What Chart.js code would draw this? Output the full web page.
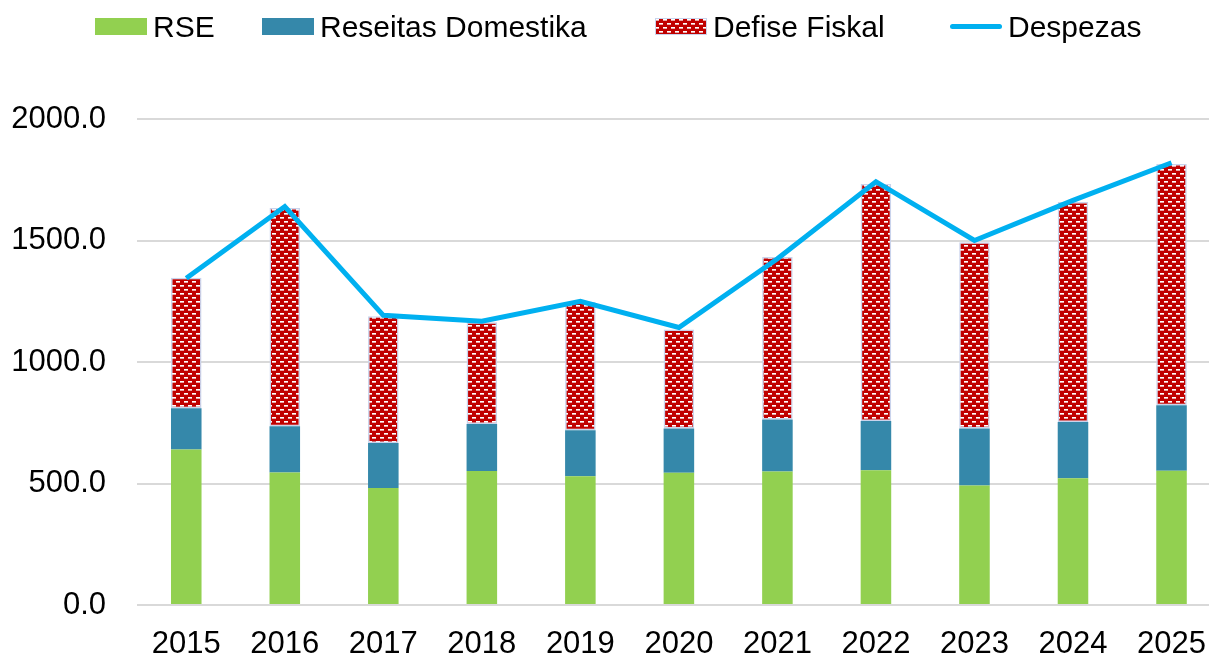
<!DOCTYPE html>
<html>
<head>
<meta charset="utf-8">
<script src="https://cdn.jsdelivr.net/npm/chart.js@4.4.1/dist/chart.umd.min.js"></script>
<style>
  body { margin: 0; background: #fff; }
  #wrap { position: relative; width: 1209px; height: 656px; overflow: hidden; }
  #legend {
    position: absolute; left: 0; top: 0; width: 1209px; height: 53px;
    font: 30px "Liberation Sans", Arial, sans-serif; color: #000;
  }
  .item { position: absolute; top: 0; height: 53px; display: flex; align-items: center; white-space: nowrap; }
  .swatch { width: 52px; height: 17px; margin-right: 6px; }
  .swatch.line { height: 5px; border-radius: 3px; }
</style>
</head>
<body>
<div id="wrap">
  <canvas id="chart" width="1227" height="656"></canvas>
  <div id="legend"></div>
</div>
<script>
const years = ["2015", "2016", "2017", "2018", "2019", "2020", "2021", "2022", "2023", "2024", "2025"];
const rse = [640, 545, 481, 551, 530, 544, 549, 555, 492, 522, 552];
const reseitasDomestika = [170, 191, 186, 194, 189, 182, 214, 202, 234, 231, 270];
const defiseFiskal = [537, 898, 521, 419, 528, 408, 669, 976, 767, 905, 993];
const despezas = [1345, 1640, 1192, 1168, 1250, 1142, 1425, 1742, 1500, 1665, 1820];
const yTicks = [0, 500, 1000, 1500, 2000];

const FONT = "'Liberation Sans', Arial, sans-serif";

// red brick pattern with white dashes
const tile = document.createElement("canvas");
tile.width = 8;
tile.height = 8;
const tctx = tile.getContext("2d");
tctx.fillStyle = "#C00000";
tctx.fillRect(0, 0, 8, 8);
tctx.fillStyle = "#ffffff";
tctx.fillRect(0, 1, 4, 1);
tctx.fillRect(4, 5, 4, 1);
tctx.fillStyle = "rgba(255,255,255,0.65)";
tctx.fillRect(0, 2, 4, 1);
tctx.fillRect(4, 6, 4, 1);
const ctx = document.getElementById("chart").getContext("2d");
const redPattern = ctx.createPattern(tile, "repeat");

const data = {
  labels: years,
  datasets: [
    {
      type: "line",
      label: "Despezas",
      data: despezas,
      borderColor: "#00B0F0",
      backgroundColor: "#00B0F0",
      borderWidth: 5,
      pointRadius: 0,
      tension: 0,
      order: 0,
    },
    {
      label: "RSE",
      data: rse,
      backgroundColor: "#92D050",
      stack: "s",
      order: 1,
    },
    {
      label: "Reseitas Domestika",
      data: reseitasDomestika,
      backgroundColor: "#3588AA",
      stack: "s",
      order: 1,
    },
    {
      label: "Defise Fiskal",
      data: defiseFiskal,
      backgroundColor: redPattern,
      borderColor: "#C9D3EC",
      borderWidth: 1.5,
      borderSkipped: false,
      stack: "s",
      order: 1,
    },
  ],
};

const config = {
  type: "bar",
  data,
  options: {
    responsive: false,
    animation: false,
    layout: { padding: { top: 119, left: 0, right: 0, bottom: 0 } },
    datasets: {
      bar: { barPercentage: 0.31, categoryPercentage: 1 },
    },
    plugins: {
      legend: { display: false },
      tooltip: { enabled: false },
    },
    scales: {
      x: {
        stacked: true,
        grid: { display: false, drawTicks: false },
        border: { display: false },
        ticks: { color: "#000", font: { family: FONT, size: 31 }, padding: 21 },
        afterFit: (scale) => { scale.height = 51; },
      },
      y: {
        stacked: true,
        min: 0,
        max: 2000,
        afterBuildTicks: (scale) => { scale.ticks = yTicks.map((v) => ({ value: v })); },
        grid: { color: "#D9D9D9", lineWidth: 2, drawTicks: false },
        border: { display: false },
        ticks: {
          color: "#000",
          font: { family: FONT, size: 31 },
          padding: 31,
          callback: (v) => Number(v).toFixed(1),
        },
        afterFit: (scale) => { scale.width = 137; },
      },
    },
  },
};

const chart = new Chart(ctx, config);

// legend on top, built from the datasets
const legendOrder = ["RSE", "Reseitas Domestika", "Defise Fiskal", "Despezas"];
const legendLeft = [95, 262, 655, 950];
const legend = document.getElementById("legend");
legendOrder.forEach((name, i) => {
  const ds = chart.data.datasets.find((d) => d.label === name);
  const item = document.createElement("div");
  item.className = "item";
  item.style.left = legendLeft[i] + "px";
  const sw = document.createElement("div");
  sw.className = "swatch";
  if (ds.type === "line") {
    sw.classList.add("line");
    sw.style.background = ds.borderColor;
  } else if (ds.backgroundColor === redPattern) {
    sw.style.background = "url(" + tile.toDataURL() + ") repeat";
    sw.style.boxShadow = "inset 0 0 0 1px #C9D3EC";
  } else {
    sw.style.background = ds.backgroundColor;
  }
  const txt = document.createElement("span");
  txt.textContent = name;
  item.appendChild(sw);
  item.appendChild(txt);
  legend.appendChild(item);
});
</script>
</body>
</html>
